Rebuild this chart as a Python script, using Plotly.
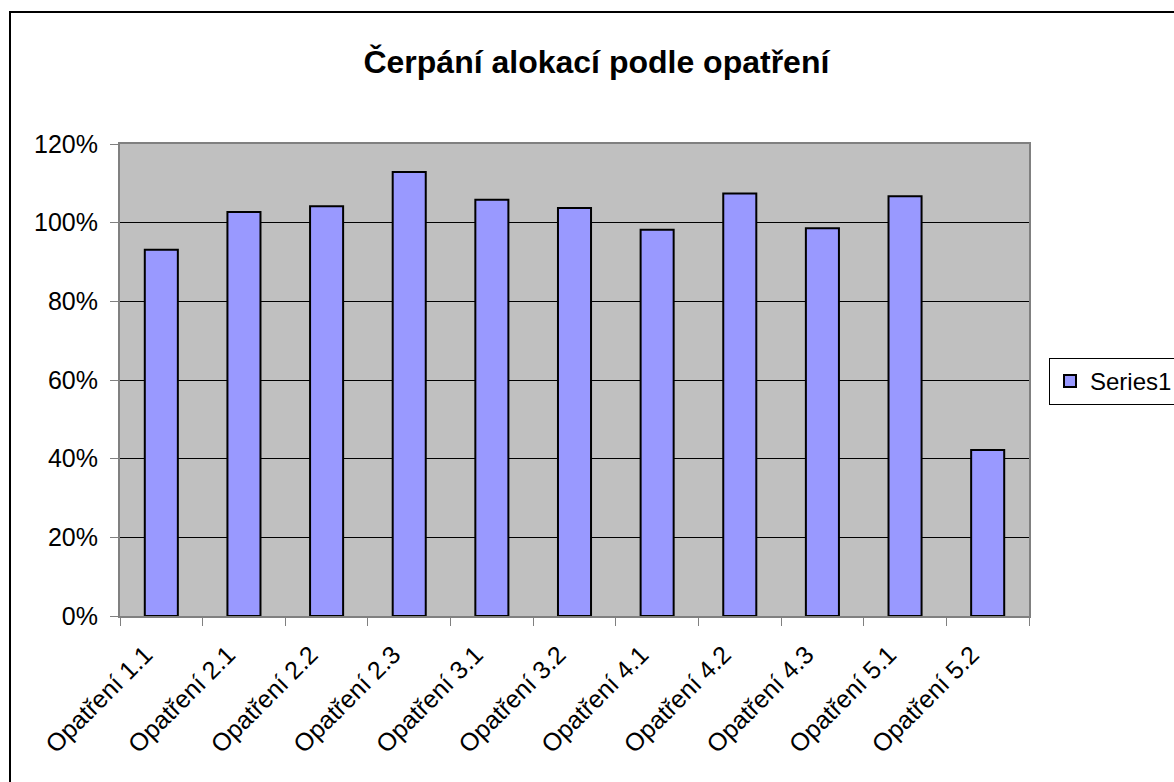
import plotly.graph_objects as go

categories = ["Opatření 1.1", "Opatření 2.1", "Opatření 2.2", "Opatření 2.3", "Opatření 3.1",
              "Opatření 3.2", "Opatření 4.1", "Opatření 4.2", "Opatření 4.3", "Opatření 5.1",
              "Opatření 5.2"]
values = [0.931, 1.027, 1.042, 1.129, 1.058, 1.037, 0.982, 1.074, 0.986, 1.067, 0.422]
series_name = "Series1"
title_text = "Čerpání alokací podle opatření"

FONT = "Liberation Sans, Arial, sans-serif"
W, H = 1174, 782
L, R, T, B = 120, 1029, 144, 616
pw, ph = R - L, B - T

fig = go.Figure()
fig.add_trace(go.Bar(
    x=categories, y=values, name=series_name,
    marker=dict(color="#9999FF", line=dict(color="black", width=2)),
    showlegend=True,
))

def px_to_paper_x(px):
    return (px - L) / pw

def py_to_paper_y(py):
    return (B - py) / ph

fig.update_layout(
    width=W, height=H,
    margin=dict(l=L, r=W - R, t=T, b=H - B, autoexpand=False),
    paper_bgcolor="white",
    plot_bgcolor="#C0C0C0",
    bargap=0.6,
    font=dict(family=FONT, color="black", size=25),
    title=dict(text="<b>" + title_text + "</b>", x=0.508, xref="container", xanchor="center",
               y=1 - 62 / H, yref="container", yanchor="middle",
               font=dict(family=FONT, size=32, color="black")),
    showlegend=True,
    legend=dict(x=px_to_paper_x(1049), y=py_to_paper_y(358), xanchor="left", yanchor="top",
                bordercolor="black", borderwidth=1, bgcolor="white",
                font=dict(family=FONT, size=24, color="black"),
                itemsizing="constant"),
    shapes=[dict(type="rect", xref="paper", yref="paper",
                 x0=px_to_paper_x(10), x1=px_to_paper_x(1200),
                 y0=py_to_paper_y(800), y1=py_to_paper_y(12),
                 line=dict(color="black", width=2), fillcolor="rgba(0,0,0,0)", layer="below")],
)

fig.update_yaxes(
    range=[0, 1.2], dtick=0.2, tick0=0, tickformat=".0%",
    showgrid=True, gridcolor="black", gridwidth=1,
    ticks="outside", ticklen=8, tickcolor="#808080", tickwidth=1,
    showline=True, linecolor="#808080", linewidth=2, mirror=True,
    zeroline=False, ticklabelstandoff=7,
    tickfont=dict(family=FONT, size=25, color="black"),
)
fig.update_xaxes(
    tickangle=-45, tickson="boundaries",
    ticks="outside", ticklen=8, tickcolor="#808080", tickwidth=1,
    showline=True, linecolor="#808080", linewidth=2, mirror=True,
    showgrid=False, ticklabelstandoff=12, ticklabelshift=-16,
    tickfont=dict(family=FONT, size=25, color="black"),
)

fig.write_html("out.html", config={"displayModeBar": False},
               post_script="document.body.style.margin='0px';")
